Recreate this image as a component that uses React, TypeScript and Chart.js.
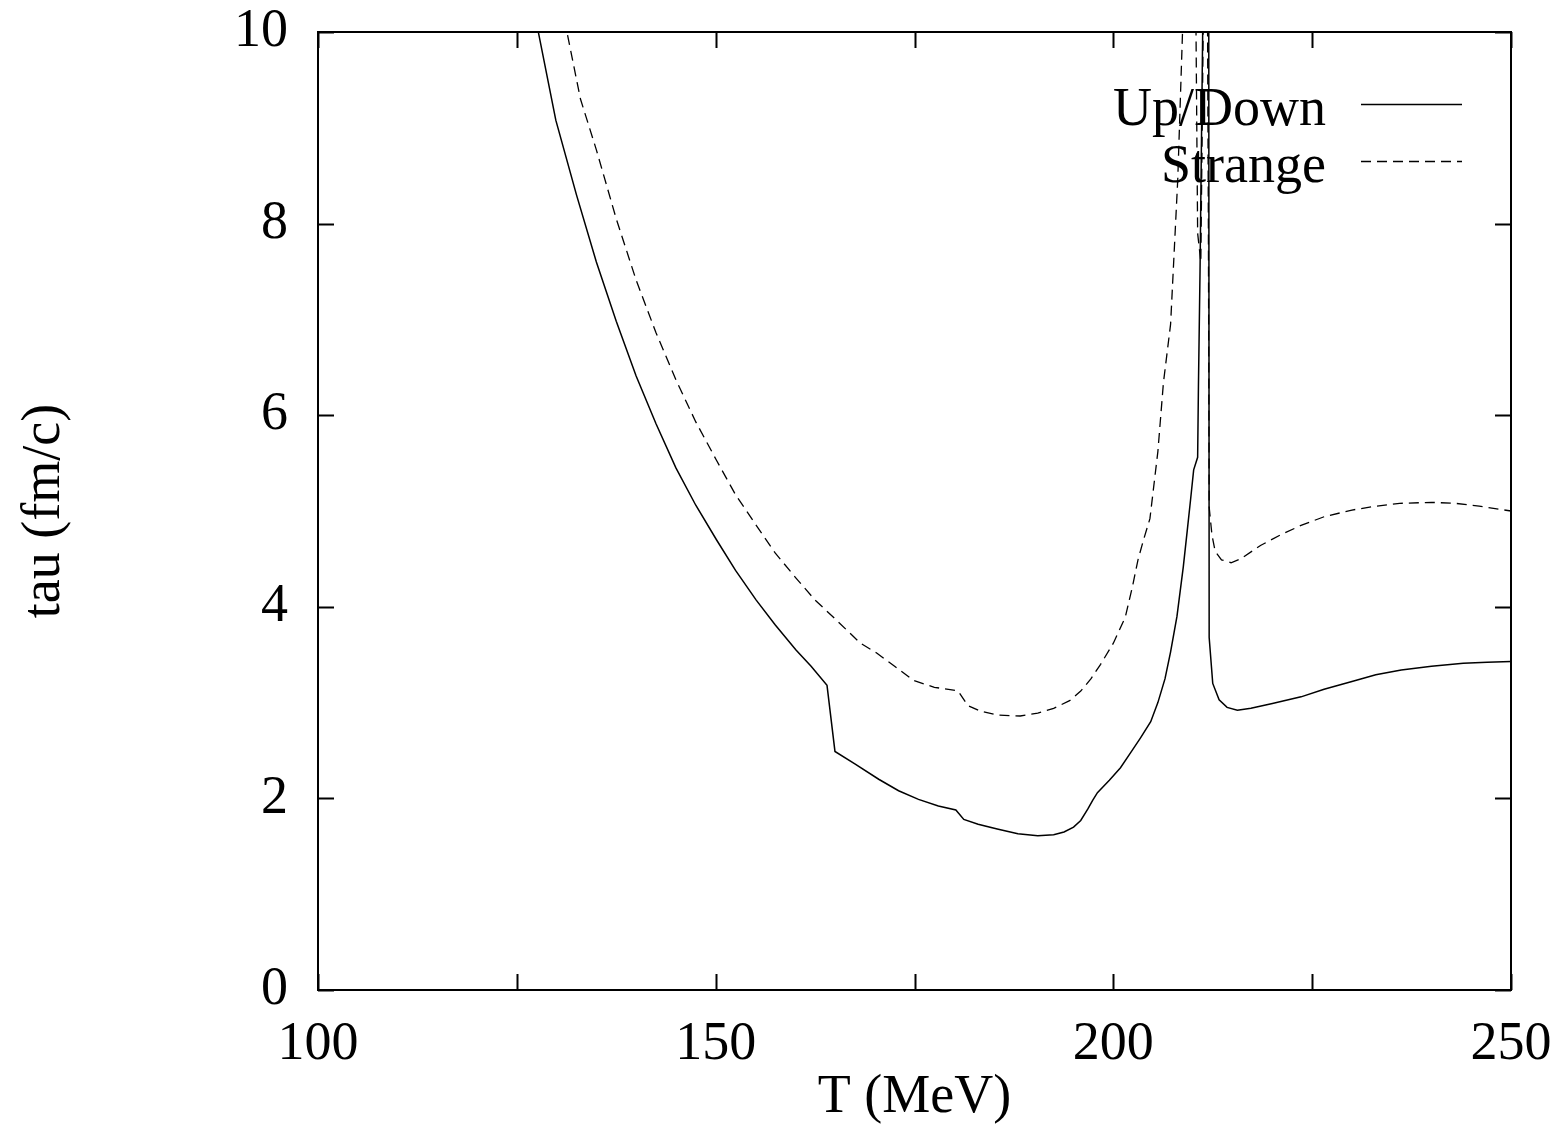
import React, { useEffect, useRef } from "react";
import { Chart, registerables } from "chart.js";

Chart.register(...registerables);

// Up/Down quark relaxation time
const udT = [127.0, 127.7, 129.9, 132.5, 135.0, 137.5, 140.0, 142.5, 145.0, 147.5, 150.1, 152.5, 155.1, 157.5, 160.1, 162.0, 164.0, 165.0, 167.5, 170.5, 173.0, 175.5, 178.0, 180.2, 181.2, 183.0, 185.4, 188.0, 190.5, 192.5, 193.8, 195.0, 195.9, 196.8, 197.4, 198.0, 199.5, 200.9, 202.2, 203.4, 204.7, 205.6, 206.5, 207.2, 208.0, 208.8, 209.3, 209.7, 210.1, 210.6, 210.7, 210.9, 211.1, 211.3, 211.6, 211.9, 212.0, 212.05, 212.5, 213.3, 214.3, 215.6, 217.3, 220.0, 223.6, 226.5, 230.0, 233.0, 236.2, 240.0, 244.0, 247.0, 250.0];
const udTau = [10.6, 10.0, 9.08, 8.3, 7.6, 6.98, 6.41, 5.91, 5.45, 5.06, 4.7, 4.38, 4.07, 3.81, 3.55, 3.38, 3.18, 2.49, 2.36, 2.2, 2.08, 1.99, 1.92, 1.88, 1.78, 1.73, 1.68, 1.63, 1.61, 1.62, 1.65, 1.7, 1.77, 1.89, 1.98, 2.06, 2.19, 2.32, 2.48, 2.63, 2.8, 3.0, 3.25, 3.53, 3.9, 4.42, 4.8, 5.11, 5.43, 5.56, 6.3, 7.5, 9.0, 10.5, 11.5, 11.5, 10.0, 3.68, 3.2, 3.03, 2.95, 2.92, 2.94, 2.99, 3.06, 3.14, 3.22, 3.29, 3.34, 3.38, 3.41, 3.42, 3.43];

// Strange quark relaxation time
const sT = [131.0, 131.3, 133.0, 135.0, 137.5, 140.0, 142.5, 145.0, 147.5, 150.1, 152.5, 155.1, 157.5, 160.1, 162.5, 165.2, 168.2, 170.2, 172.5, 174.9, 177.5, 179.9, 180.5, 181.7, 183.3, 185.4, 188.3, 190.5, 192.5, 194.5, 195.9, 197.2, 198.4, 200.0, 201.5, 202.4, 203.1, 203.8, 204.6, 205.6, 206.3, 207.2, 208.1, 208.7, 208.9, 210.3, 210.6, 211.0, 211.2, 211.4, 211.8, 211.95, 212.05, 212.4, 212.8, 213.6, 214.8, 216.0, 218.5, 221.0, 223.6, 226.5, 230.0, 233.0, 236.0, 240.0, 243.0, 246.0, 250.0];
const sTau = [10.3, 10.0, 9.3, 8.77, 8.05, 7.41, 6.86, 6.37, 5.93, 5.53, 5.17, 4.85, 4.56, 4.3, 4.07, 3.86, 3.62, 3.52, 3.38, 3.23, 3.16, 3.13, 3.12, 2.97, 2.91, 2.87, 2.86, 2.89, 2.94, 3.02, 3.12, 3.25, 3.4, 3.62, 3.89, 4.21, 4.49, 4.7, 4.92, 5.62, 6.34, 6.95, 8.46, 10.0, 11.0, 11.0, 7.9, 7.6, 9.2, 11.0, 11.0, 8.0, 5.04, 4.75, 4.58, 4.49, 4.46, 4.5, 4.64, 4.75, 4.85, 4.94, 5.01, 5.05, 5.08, 5.09, 5.08, 5.05, 5.0];

const seriesLabels = ["Up/Down", "Strange"];
const xTitle = "T (MeV)";
const yTitle = "tau (fm/c)";
const xMin = 100, xMax = 250, xStep = 25, xLabelEvery = 50;
const yMin = 0, yMax = 10, yStep = 2;

const FONT = "'Liberation Serif', 'DejaVu Serif', serif";
const FS = 54;

function zip(xs: number[], ys: number[]) {
  return xs.map((x, i) => ({ x, y: ys[i] }));
}

const framePlugin = {
  id: "framePlugin",
  afterDatasetsDraw(chart: any) {
    const { ctx, chartArea } = chart;
    const { left, right, top, bottom } = chartArea;
    const xs = chart.scales.x;
    const ys = chart.scales.y;
    ctx.save();
    ctx.strokeStyle = "#000";
    ctx.lineWidth = 2;
    ctx.strokeRect(left, top, right - left, bottom - top);
    const tl = 16;
    ctx.beginPath();
    xs.ticks.forEach((t: any) => {
      const px = Math.round(xs.getPixelForValue(t.value)) + 0.5;
      ctx.moveTo(px, bottom);
      ctx.lineTo(px, bottom - tl);
      ctx.moveTo(px, top);
      ctx.lineTo(px, top + tl);
    });
    ys.ticks.forEach((t: any) => {
      const py = Math.round(ys.getPixelForValue(t.value)) + 0.5;
      ctx.moveTo(left, py);
      ctx.lineTo(left + tl, py);
      ctx.moveTo(right, py);
      ctx.lineTo(right - tl, py);
    });
    ctx.stroke();

    // legend (inside, top right)
    ctx.font = `${FS}px ${FONT}`;
    ctx.fillStyle = "#000";
    ctx.textAlign = "right";
    ctx.textBaseline = "alphabetic";
    const textRight = right - 185;
    const lineX0 = right - 150;
    const lineX1 = right - 49;
    const rows = [top + 72, top + 129];
    chart.data.datasets.forEach((ds: any, i: number) => {
      const ly = rows[i];
      ctx.fillText(ds.label, textRight, ly + 21);
      ctx.beginPath();
      ctx.lineWidth = 1.5;
      ctx.setLineDash(ds.borderDash || []);
      ctx.moveTo(lineX0, ly + 0.5);
      ctx.lineTo(lineX1, ly + 0.5);
      ctx.stroke();
      ctx.setLineDash([]);
    });
    ctx.restore();
  },
};

export default function App() {
  const ref = useRef<HTMLCanvasElement | null>(null);
  useEffect(() => {
    document.body.style.overflow = "hidden";
    const canvas = ref.current!;
    const chart = new Chart(canvas, {
      type: "line",
      data: {
        datasets: [
          {
            label: seriesLabels[0],
            data: zip(udT, udTau),
            borderColor: "#000",
            borderWidth: 1.5,
            pointRadius: 0,
            tension: 0,
            fill: false,
          },
          {
            label: seriesLabels[1],
            data: zip(sT, sTau),
            borderColor: "#000",
            borderWidth: 1.3,
            borderDash: [10, 6],
            pointRadius: 0,
            tension: 0,
            fill: false,
          },
        ],
      },
      options: {
        responsive: false,
        animation: false,
        events: [],
        layout: { padding: { left: 0, right: 51, top: 32, bottom: 0 } },
        plugins: { legend: { display: false }, tooltip: { enabled: false }, title: { display: false } },
        scales: {
          x: {
            type: "linear",
            min: xMin,
            max: xMax,
            grid: { display: false, drawTicks: false },
            border: { display: false },
            ticks: {
              stepSize: xStep,
              autoSkip: false,
              maxRotation: 0,
              padding: 22,
              color: "#000",
              font: { family: FONT, size: FS },
              callback: (v: any) => (Number(v) % xLabelEvery === 0 ? String(v) : ""),
            },
            title: {
              display: true,
              text: xTitle,
              color: "#000",
              font: { family: FONT, size: FS },
              padding: { top: 0, bottom: 4 },
            },
            afterFit: (s: any) => {
              s.height = 144;
              s.paddingLeft = 0;
              s.paddingRight = 0;
            },
          },
          y: {
            type: "linear",
            min: yMin,
            max: yMax,
            grid: { display: false, drawTicks: false },
            border: { display: false },
            ticks: {
              stepSize: yStep,
              padding: 30,
              color: "#000",
              font: { family: FONT, size: FS },
            },
            title: {
              display: true,
              text: yTitle,
              color: "#000",
              font: { family: FONT, size: FS },
              padding: { top: 12, bottom: 0 },
            },
            afterFit: (s: any) => {
              s.width = 318;
              s.paddingTop = 0;
              s.paddingBottom = 0;
            },
          },
        },
      },
      plugins: [framePlugin],
    });
    return () => chart.destroy();
  }, []);
  return (
    <div style={{ position: "absolute", left: 0, top: 0, width: 1562, height: 1134, background: "#fff" }}>
      <canvas ref={ref} width={1562} height={1134} style={{ display: "block" }} />
    </div>
  );
}
